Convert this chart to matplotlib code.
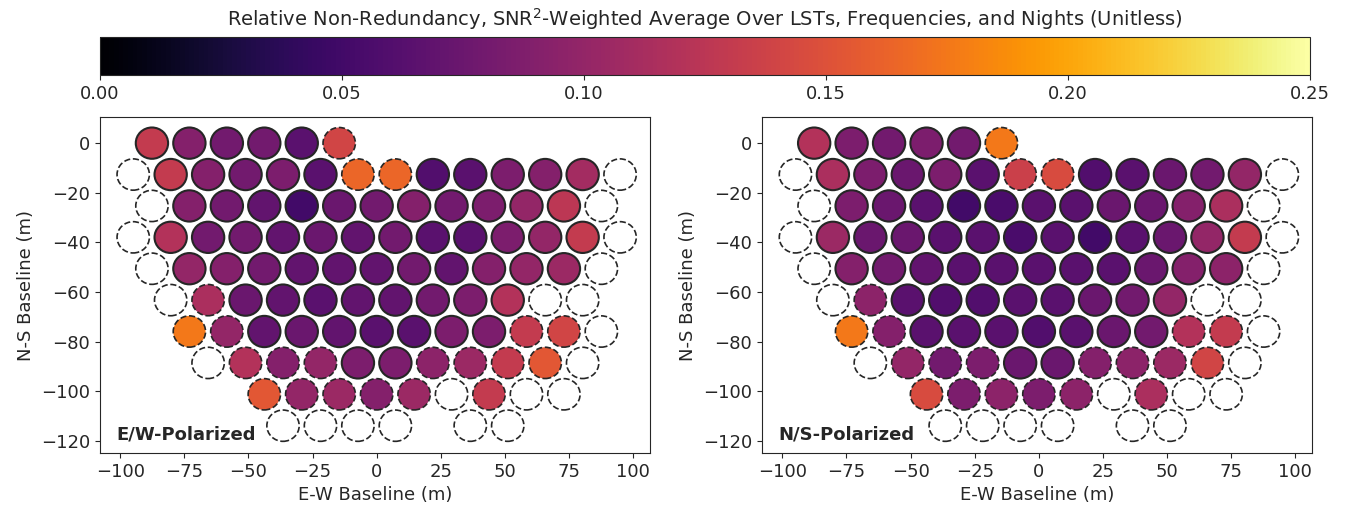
import numpy as np
import matplotlib
matplotlib.use('Agg')
import matplotlib.pyplot as plt
from matplotlib.patches import Circle

sep = 14.6
dy = sep * np.sqrt(3) / 2

# each row: codes 'e' empty, ('s', v) solid edge, ('d', v) dashed edge, None gap
# first x of each row in half-spacings
row_start = [-12, -13, -12, -13, -12, -11, -10, -9, -6, -5]

ew_rows = [
    [('s', .13), ('s', .09), ('s', .08), ('s', .08), ('s', .065), ('d', .14)],
    ['e', ('s', .13), ('s', .09), ('s', .08), ('s', .085), ('s', .065), ('d', .165), ('d', .165), ('s', .06), ('s', .065), ('s', .085), ('s', .09), ('s', .11), 'e'],
    ['e', ('s', .09), ('s', .08), ('s', .07), ('s', .05), ('s', .075), ('s', .08), ('s', .09), ('s', .08), ('s', .085), ('s', .1), ('s', .125), 'e'],
    ['e', ('s', .12), ('s', .08), ('s', .08), ('s', .07), ('s', .075), ('s', .07), ('s', .08), ('s', .065), ('s', .065), ('s', .085), ('s', .1), ('s', .13), 'e'],
    ['e', ('s', .1), ('s', .09), ('s', .08), ('s', .07), ('s', .07), ('s', .07), ('s', .08), ('s', .07), ('s', .09), ('s', .1), ('s', .105), 'e'],
    ['e', ('d', .115), ('s', .075), ('s', .07), ('s', .065), ('s', .07), ('s', .07), ('s', .08), ('s', .085), ('s', .12), 'e', 'e'],
    [('d', .175), ('d', .1), ('s', .07), ('s', .075), ('s', .07), ('s', .065), ('s', .065), ('s', .085), ('s', .085), ('d', .13), ('d', .14), 'e'],
    ['e', ('d', .12), ('d', .09), ('d', .1), ('s', .085), ('s', .085), ('d', .095), ('d', .105), ('d', .13), ('d', .155), 'e'],
    [('d', .155), ('d', .1), ('d', .105), ('d', .09), ('d', .105), 'e', ('d', .13), 'e', 'e'],
    ['e', 'e', 'e', 'e', None, 'e', 'e'],
]

ns_rows = [
    [('s', .12), ('s', .085), ('s', .08), ('s', .085), ('s', .08), ('d', .175)],
    ['e', ('s', .115), ('s', .085), ('s', .075), ('s', .085), ('s', .065), ('d', .135), ('d', .145), ('s', .06), ('s', .065), ('s', .075), ('s', .08), ('s', .1), 'e'],
    ['e', ('s', .085), ('s', .075), ('s', .065), ('s', .05), ('s', .055), ('s', .065), ('s', .065), ('s', .075), ('s', .075), ('s', .09), ('s', .115), 'e'],
    ['e', ('s', .105), ('s', .075), ('s', .075), ('s', .065), ('s', .065), ('s', .055), ('s', .065), ('s', .05), ('s', .065), ('s', .075), ('s', .1), ('s', .13), 'e'],
    ['e', ('s', .09), ('s', .08), ('s', .07), ('s', .065), ('s', .065), ('s', .065), ('s', .065), ('s', .065), ('s', .075), ('s', .09), ('s', .095), 'e'],
    ['e', ('d', .095), ('s', .065), ('s', .06), ('s', .06), ('s', .065), ('s', .065), ('s', .075), ('s', .08), ('s', .1), 'e', 'e'],
    [('d', .175), ('d', .09), ('s', .065), ('s', .065), ('s', .065), ('s', .06), ('s', .065), ('s', .075), ('s', .08), ('d', .12), ('d', .13), 'e'],
    ['e', ('d', .1), ('d', .08), ('d', .085), ('s', .075), ('s', .075), ('d', .09), ('d', .095), ('d', .105), ('d', .14), 'e'],
    [('d', .145), ('d', .085), ('d', .095), ('d', .085), ('d', .095), 'e', ('d', .115), 'e', 'e'],
    ['e', 'e', 'e', 'e', None, 'e', 'e'],
]

cmap = plt.get_cmap('inferno')
norm = matplotlib.colors.Normalize(0, 0.25)
dark = '#262626'

plt.rcParams['font.size'] = 13
plt.rcParams['text.color'] = dark
plt.rcParams['axes.labelcolor'] = dark
plt.rcParams['axes.edgecolor'] = dark
plt.rcParams['xtick.color'] = dark
plt.rcParams['ytick.color'] = dark

fig = plt.figure(figsize=(13.46, 5.09), dpi=100)
axes = [fig.add_axes([0.074, 0.110, 0.409, 0.660]),
        fig.add_axes([0.566, 0.110, 0.409, 0.660])]
cax = fig.add_axes([0.074, 0.853, 0.899, 0.075])

for ax, rows, label in zip(axes, [ew_rows, ns_rows], ['E/W-Polarized', 'N/S-Polarized']):
    for r, row in enumerate(rows):
        y = -r * dy
        for i, c in enumerate(row):
            if c is None:
                continue
            x = (row_start[r] + 2 * i) * sep / 2
            if c == 'e':
                p = Circle((x, y), 6.3, facecolor='none', edgecolor=dark, ls='--', lw=1.2)
            else:
                kind, v = c
                p = Circle((x, y), 6.3, facecolor=cmap(norm(v)), edgecolor=dark,
                           ls='-' if kind == 's' else '--', lw=1.5 if kind == 's' else 1.2)
            ax.add_patch(p)
    ax.set_xlim(-108, 106.6)
    ax.set_ylim(-124.8, 10.5)
    ax.set_xticks([-100, -75, -50, -25, 0, 25, 50, 75, 100])
    ax.set_yticks([0, -20, -40, -60, -80, -100, -120])
    ax.set_xlabel('E-W Baseline (m)')
    ax.set_ylabel('N-S Baseline (m)')
    ax.text(0.03, 0.04, label, transform=ax.transAxes, fontsize=13, fontweight='bold')

sm = matplotlib.cm.ScalarMappable(norm=norm, cmap=cmap)
cb = fig.colorbar(sm, cax=cax, orientation='horizontal')
cb.set_ticks([0, .05, .1, .15, .2, .25])
cb.set_ticklabels(['0.00', '0.05', '0.10', '0.15', '0.20', '0.25'])
cax.xaxis.set_label_position('top')
cax.set_xlabel('Relative Non-Redundancy, SNR$^2$-Weighted Average Over LSTs, Frequencies, and Nights (Unitless)',
               fontsize=14, labelpad=8)

fig.savefig('out.png', dpi=100)
